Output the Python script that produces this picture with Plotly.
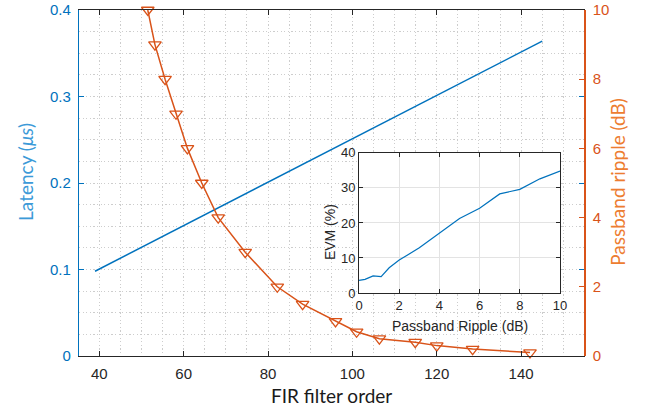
import plotly.graph_objects as go

# ---- data ----
latency_order = [39, 145]
latency_us = [0.098, 0.364]

ripple_order = [51.5, 53.2, 55.6, 58.2, 60.9, 64.3, 68.2, 74.6, 82.2, 88.2, 96.0, 101.0, 106.4, 114.9, 120.0, 128.5, 142.1]
ripple_db = [10, 9, 8, 7, 6, 5, 4, 3, 2, 1.5, 1, 0.7, 0.5, 0.4, 0.3, 0.2, 0.1]

inset_ripple = [0, 0.3, 0.7, 1.0, 1.1, 1.5, 2, 3, 4, 5, 6, 7, 8, 9, 10]
inset_evm = [3.6, 3.9, 4.9, 4.8, 4.7, 7.2, 9.4, 12.9, 17.1, 21.3, 24.2, 28.3, 29.6, 32.6, 34.8]

x_ticks = [40, 60, 80, 100, 120, 140]
y_ticks = [0, 0.1, 0.2, 0.3, 0.4]
y_ticktext = ["0", "0.1", "0.2", "0.3", "0.4"]
y2_ticks = [0, 2, 4, 6, 8, 10]
inset_x_range = [0, 10]
inset_y_range = [0, 40]
inset_x_ticks = [0, 2, 4, 6, 8, 10]
inset_y_ticks = [0, 10, 20, 30, 40]

BLUE = "#0072BD"
ORANGE = "#D95319"
DARK = "#262626"
GRID = "#cdcdcd"
GRIDDASH = "1.2px,2.4px"
TICKFONT = "Liberation Sans, Arial, sans-serif"
TITLEFONT = "Lato, Carlito, sans-serif"

fig = go.Figure()

fig.add_trace(go.Scatter(x=latency_order, y=latency_us, mode="lines",
                         line=dict(color=BLUE, width=1.5), xaxis="x", yaxis="y",
                         showlegend=False))
fig.add_trace(go.Scatter(x=ripple_order, y=ripple_db, mode="lines+markers",
                         line=dict(color=ORANGE, width=1.5),
                         marker=dict(symbol="triangle-down-open", size=11,
                                     color=ORANGE, line=dict(width=1.3, color=ORANGE)),
                         xaxis="x", yaxis="y2", cliponaxis=False, showlegend=False))
fig.add_trace(go.Scatter(x=inset_ripple, y=inset_evm, mode="lines",
                         line=dict(color=BLUE, width=1.2), xaxis="x3", yaxis="y3",
                         showlegend=False))

fig.update_layout(
    width=647, height=409,
    margin=dict(l=79, r=63, t=10, b=53, autoexpand=False),
    showlegend=False,
    paper_bgcolor="white", plot_bgcolor="white",
    xaxis=dict(range=[35.2, 154.9], tickvals=x_ticks, ticks="inside", ticklen=5,
               tickcolor=DARK, linecolor=DARK, linewidth=1.2, mirror="ticks",
               showgrid=True, gridcolor=GRID, griddash=GRIDDASH, gridwidth=1,
               minor=dict(dtick=5, tick0=0, showgrid=True, gridcolor=GRID, griddash=GRIDDASH, ticks=""),
               zeroline=False, tickfont=dict(family=TICKFONT, size=15, color=DARK),
               ticklabelstandoff=4, automargin=False),
    yaxis=dict(range=[0, 0.4], tickvals=y_ticks, ticktext=y_ticktext, ticks="inside", ticklen=5,
               tickcolor=BLUE, linecolor=BLUE, linewidth=1.2, mirror="ticks",
               showgrid=True, gridcolor=GRID, griddash=GRIDDASH, gridwidth=1,
               minor=dict(dtick=0.025, tick0=0, showgrid=True, gridcolor=GRID, griddash=GRIDDASH, ticks=""),
               zeroline=False, tickfont=dict(family=TICKFONT, size=15, color=BLUE),
               ticklabelstandoff=4, automargin=False),
    yaxis2=dict(range=[0, 10], tickvals=y2_ticks, overlaying="y", side="right", ticks="inside",
                ticklen=5, tickcolor=ORANGE, linecolor=ORANGE, linewidth=1.5,
                showgrid=False, zeroline=False, automargin=False,
                tickfont=dict(family=TICKFONT, size=15, color=ORANGE), ticklabelstandoff=4),
    xaxis3=dict(domain=[0.5545, 0.9525], anchor="y3", range=inset_x_range, tickvals=inset_x_ticks,
                ticks="inside", ticklen=4, tickcolor=DARK, linecolor=DARK, linewidth=1,
                mirror="ticks", showgrid=True, gridcolor="#e3e3e3", zeroline=False, automargin=False,
                tickfont=dict(family=TICKFONT, size=13, color=DARK)),
    yaxis3=dict(domain=[0.182, 0.587], anchor="x3", range=inset_y_range, tickvals=inset_y_ticks,
                ticks="inside", ticklen=4, tickcolor=DARK, linecolor=DARK, linewidth=1,
                mirror="ticks", showgrid=True, gridcolor="#e3e3e3", zeroline=False, automargin=False,
                tickfont=dict(family=TICKFONT, size=13, color=DARK)),
    shapes=[dict(type="rect", xref="x3", yref="y3",
                 x0=inset_x_range[0], x1=inset_x_range[1],
                 y0=inset_y_range[0], y1=inset_y_range[1],
                 fillcolor="white", line=dict(width=0), layer="below")],
    annotations=[
        dict(text="FIR filter order", xref="paper", yref="paper", x=0.5, y=-0.113,
             showarrow=False, xanchor="center", yanchor="middle",
             font=dict(family=TITLEFONT, size=19, color="#1a1a1a")),
        dict(text="Latency (<i>μs</i>)", xref="paper", yref="paper", x=-0.105, y=0.532,
             showarrow=False, textangle=-90, xanchor="center", yanchor="middle",
             font=dict(family=TITLEFONT, size=19, color="#3C9AD8")),
        dict(text="Passband ripple (dB)", xref="paper", yref="paper", x=1.067, y=0.503,
             showarrow=False, textangle=-90, xanchor="center", yanchor="middle",
             font=dict(family=TITLEFONT, size=19, color="#ED7D31")),
        dict(text="EVM (%)", xref="paper", yref="paper", x=0.497, y=0.358,
             showarrow=False, textangle=-90, xanchor="center", yanchor="middle",
             font=dict(family=TICKFONT, size=14, color=DARK)),
        dict(text="Passband Ripple (dB)", xref="paper", yref="paper", x=0.7545, y=0.0867,
             showarrow=False, xanchor="center", yanchor="middle",
             font=dict(family=TICKFONT, size=14, color=DARK)),
    ],
)

fig.write_html("out.html")
